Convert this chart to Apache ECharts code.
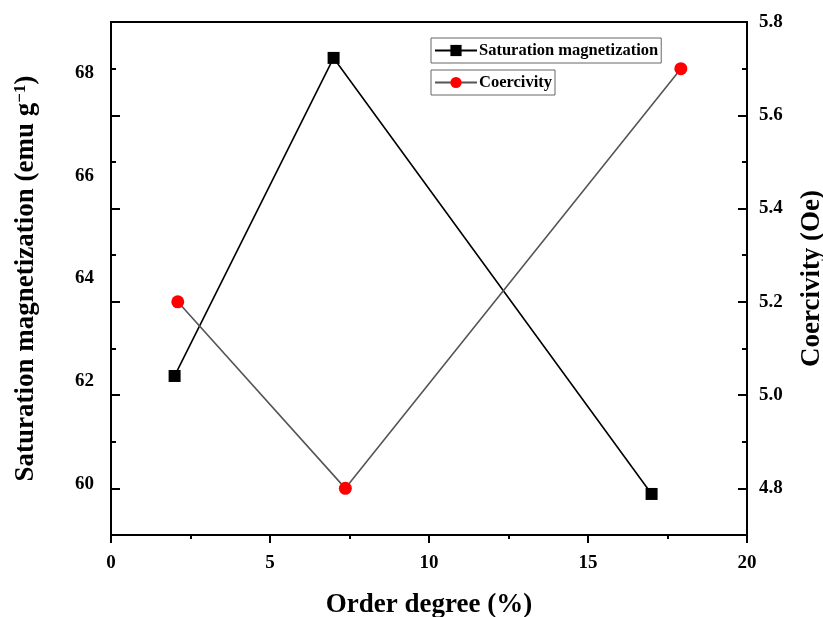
<!DOCTYPE html>
<html><head><meta charset="utf-8">
<script src="https://cdn.jsdelivr.net/npm/echarts@6/dist/echarts.min.js"></script>
<style>html,body{margin:0;padding:0;background:#fff}#c{width:823px;height:617px}</style>
</head><body><div id="c"></div>
<script>
const satX = [2, 7, 17];
const satY = [62.1, 68.3, 59.8];
const coeX = [2.1, 7.37, 17.92];
const coeY = [5.2, 4.8, 5.7];
const leftLabels = [60, 62, 64, 66, 68];
const rightLabels = [4.8, 5.0, 5.2, 5.4, 5.6, 5.8];
const rightMinor = [4.9, 5.1, 5.3, 5.5, 5.7];
const rightMajorTicks = [4.8, 5.0, 5.2, 5.4, 5.6];

const FONT = 'Liberation Serif';
const lblStyle = {fontFamily: FONT, fontWeight: 'bold', fontSize: 19, color: '#000'};
const nameStyle = {fontFamily: FONT, fontWeight: 'bold', fontSize: 27, color: '#000'};

const chart = echarts.init(document.getElementById('c'));
const hiddenAxis = (pos, vals, len) => ({
  type: 'value', position: pos, min: 4.7, max: 5.8, offset: 0,
  axisLine: {show: false}, splitLine: {show: false}, axisLabel: {show: false},
  axisTick: {show: true, inside: true, length: len, lineStyle: {color: '#000', width: 2}, customValues: vals}
});
const legendBase = {orient: 'horizontal', borderColor: '#666', borderWidth: 1, left: 431,
  padding: [4, 3, 4, 3], itemWidth: 42, itemHeight: 14, itemGap: 4,
  textStyle: {fontFamily: FONT, fontWeight: 'bold', fontSize: 16.5, color: '#000', padding: [0, 0, 0, -3]}};
chart.setOption({
  animation: false,
  grid: {left: 111, right: 76, top: 22, bottom: 82, show: true, borderColor: '#000', borderWidth: 2,
         containLabel: false, outerBoundsMode: 'none'},
  legend: [
    Object.assign({data: ['Saturation magnetization'], top: 38}, legendBase),
    Object.assign({data: ['Coercivity'], top: 70}, legendBase)
  ],
  xAxis: {
    type: 'value', min: 0, max: 20, interval: 5,
    name: 'Order degree (%)', nameLocation: 'middle', nameGap: 57, nameTextStyle: nameStyle,
    axisLine: {show: true, lineStyle: {color: '#000', width: 2}},
    axisTick: {show: true, inside: false, length: 8, lineStyle: {color: '#000', width: 2}},
    minorTick: {show: true, splitNumber: 2, length: 4, lineStyle: {color: '#000', width: 2}},
    splitLine: {show: false},
    axisLabel: Object.assign({margin: 19}, lblStyle)
  },
  yAxis: [
    {type: 'value', position: 'left', min: 59, max: 69,
     name: 'Saturation magnetization (emu g{sup|−1})', nameLocation: 'middle', nameRotate: 90, nameGap: 70,
     nameTextStyle: Object.assign({rich: {sup: {fontFamily: FONT, fontWeight: 'bold', fontSize: 17, verticalAlign: 'top', padding: [0, 0, 12, 0]}}}, nameStyle),
     axisLine: {show: true, lineStyle: {color: '#000', width: 2}},
     axisTick: {show: false}, splitLine: {show: false},
     axisLabel: Object.assign({margin: 17, customValues: leftLabels, padding: [4, 0, 0, 0]}, lblStyle)},
    {type: 'value', position: 'right', min: 4.7, max: 5.8,
     name: 'Coercivity (Oe)', nameLocation: 'middle', nameRotate: 90, nameGap: 52, nameTextStyle: nameStyle,
     axisLine: {show: true, lineStyle: {color: '#000', width: 2}},
     axisTick: {show: true, inside: true, length: 9, lineStyle: {color: '#000', width: 2}, customValues: rightMajorTicks},
     splitLine: {show: false},
     axisLabel: Object.assign({margin: 12, customValues: rightLabels, formatter: v => v.toFixed(1)}, lblStyle)},
    hiddenAxis('right', rightMinor, 5),
    hiddenAxis('left', rightMajorTicks, 9),
    hiddenAxis('left', rightMinor, 5)
  ],
  series: [
    {name: 'Saturation magnetization', type: 'line', yAxisIndex: 0,
     data: satX.map((x, i) => [x, satY[i]]),
     symbol: 'rect', symbolSize: 12, itemStyle: {color: '#000'}, lineStyle: {color: '#000', width: 1.6}},
    {name: 'Coercivity', type: 'line', yAxisIndex: 1,
     data: coeX.map((x, i) => [x, coeY[i]]),
     symbol: 'circle', symbolSize: 13, itemStyle: {color: '#ff0000'}, lineStyle: {color: '#555', width: 1.6}}
  ]
});
</script></body></html>
